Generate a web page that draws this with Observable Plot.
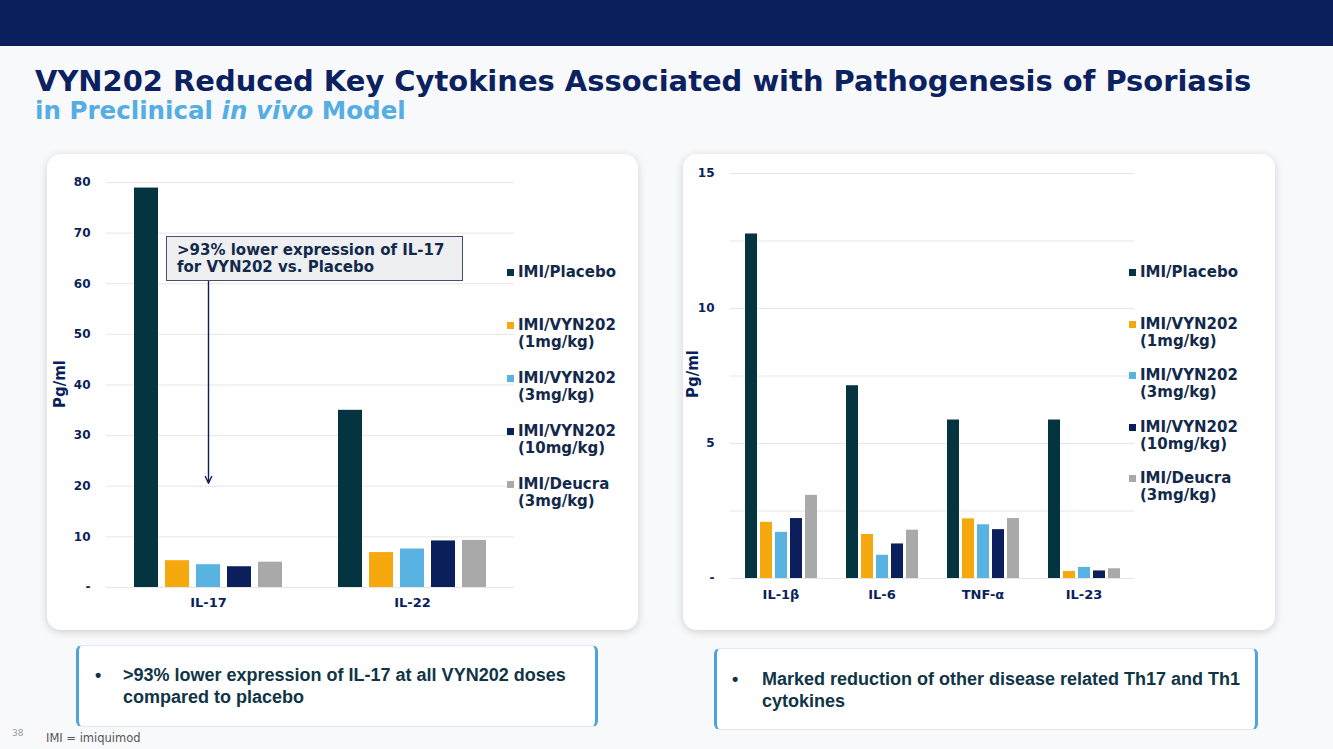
<!DOCTYPE html>
<html><head><meta charset="utf-8">
<script src="https://cdn.jsdelivr.net/npm/d3@7"></script>
<script src="https://cdn.jsdelivr.net/npm/@observablehq/plot@0.6"></script>
<style>
body{margin:0;width:1333px;height:749px;overflow:hidden;background:#f8f9fb;font-family:"DejaVu Sans",sans-serif;position:relative}
.topbar{position:absolute;left:0;top:0;width:1333px;height:46px;background:#0a1f5b}
.title{position:absolute;left:35px;top:67px;font-weight:bold;font-size:29.5px;line-height:29.5px;color:#0b2160;white-space:nowrap}
.subtitle{position:absolute;left:35px;top:99px;font-weight:bold;font-size:23px;line-height:23px;color:#55ade2;white-space:nowrap}
.card{position:absolute;background:#fff;border-radius:14px;box-shadow:0 2px 9px rgba(0,0,0,.17)}
.legend-item{position:absolute;font-weight:bold;font-size:15px;line-height:17px;color:#13294b;white-space:nowrap;padding-left:11px}
.legend-item .sw{position:absolute;left:0;top:5px;width:7px;height:7px}
.ylab{position:absolute;font-weight:bold;font-size:15px;color:#0b1f5c;white-space:nowrap;transform:translate(-50%,-50%) rotate(-90deg)}
.note{position:absolute;left:119px;top:82px;width:297px;height:45px;background:#eeeff1;border:1.5px solid #44506e;font-weight:bold;font-size:15px;line-height:17px;color:#13294b;padding:5px 0 0 10px;box-sizing:border-box}
.box{position:absolute;background:#fff;border-left:3px solid #4ea3dd;border-right:3px solid #4ea3dd;border-top:1px solid #e3e8ee;border-bottom:1px solid #dfe6ee;border-radius:6px;box-sizing:border-box;font-family:"Liberation Sans",Arial,sans-serif;font-weight:bold;font-size:18px;line-height:22px;color:#0f3547}
.box .b{position:absolute}
.box .t{position:absolute;white-space:nowrap}
.foot{position:absolute;left:46px;top:731px;font-size:11.5px;color:#555}
.pg{position:absolute;left:12px;top:728px;font-size:9px;color:#999}
</style></head>
<body>
<div class="topbar"></div>
<div class="title" id="title">VYN202 Reduced Key Cytokines Associated with Pathogenesis of Psoriasis</div>
<div class="subtitle" id="subtitle">in Preclinical <i>in vivo</i> Model</div>
<div class="card" id="cardL" style="left:47px;top:154px;width:591px;height:476px"></div>
<div class="card" id="cardR" style="left:683px;top:154px;width:592px;height:476px"></div>
<div class="box" style="left:76px;top:645px;width:522px;height:82px">
  <div class="b" style="left:16px;top:18px">•</div>
  <div class="t" style="left:44px;top:18px">&gt;93% lower expression of IL-17 at all VYN202 doses<br>compared to placebo</div>
</div>
<div class="box" style="left:714px;top:648px;width:544px;height:82px">
  <div class="b" style="left:15px;top:19px">•</div>
  <div class="t" style="left:45px;top:19px">Marked reduction of other disease related Th17 and Th1<br>cytokines</div>
</div>
<div class="pg">38</div>
<div class="foot">IMI = imiquimod</div>
<script>
// ---- data ----
const seriesNames = ["IMI/Placebo", "IMI/VYN202 (1mg/kg)", "IMI/VYN202 (3mg/kg)", "IMI/VYN202 (10mg/kg)", "IMI/Deucra (3mg/kg)"];
const legendLines = [["IMI/Placebo"], ["IMI/VYN202", "(1mg/kg)"], ["IMI/VYN202", "(3mg/kg)"], ["IMI/VYN202", "(10mg/kg)"], ["IMI/Deucra", "(3mg/kg)"]];
const seriesColors = ["#03343f", "#f6a90f", "#58b2e2", "#0b1f5c", "#a9a9a9"];
const yLabel = "Pg/ml";

const leftCategories = ["IL-17", "IL-22"];
const il17Values = [78.9, 5.3, 4.5, 4.1, 5.0];
const il22Values = [35.0, 6.9, 7.6, 9.2, 9.3];
const leftTicks = [0, 10, 20, 30, 40, 50, 60, 70, 80];

const rightCategories = ["IL-1β", "IL-6", "TNF-α", "IL-23"];
const il1bValues = [12.76, 2.08, 1.71, 2.22, 3.08];
const il6Values = [7.14, 1.63, 0.86, 1.28, 1.79];
const tnfaValues = [5.87, 2.21, 1.99, 1.81, 2.22];
const il23Values = [5.87, 0.26, 0.41, 0.28, 0.36];
const rightTicks = [0, 5, 10, 15];
const rightGrid = [0, 2.5, 5, 7.5, 10, 12.5, 15];

const annotationText = [">93% lower expression of IL-17", "for VYN202 vs. Placebo"];
const annotationArrow = [{cat: "IL-17", series: "IMI/VYN202 (3mg/kg)", from: 60.5, to: 20.6}];

// ---- build ----
function rows(cats, arrays) {
  const out = [];
  cats.forEach((c, i) => arrays[i].forEach((v, j) => out.push({cat: c, series: seriesNames[j], value: v})));
  return out;
}
const leftData = rows(leftCategories, [il17Values, il22Values]);
const rightData = rows(rightCategories, [il1bValues, il6Values, tnfaValues, il23Values]);

const ink = "#0b1f5c";
const fmt = d => d === 0 ? "-" : String(d);

function chart(opts) {
  return Plot.plot({
    width: opts.width, height: 476,
    marginLeft: opts.ml, marginRight: 0, marginTop: opts.mt, marginBottom: opts.mb,
    style: {fontFamily: "DejaVu Sans", fontWeight: "bold", fontSize: "12px", color: ink, background: "transparent", overflow: "visible"},
    fx: {domain: opts.cats, padding: 0, label: null},
    x: {domain: seriesNames, axis: null, paddingInner: 0.23, paddingOuter: 0.86},
    y: {domain: opts.ydomain, label: null},
    color: {domain: seriesNames, range: seriesColors},
    marks: [
      Plot.ruleY(opts.grid, {stroke: "#e6e6e6", strokeWidth: 1}),
      Plot.barY(opts.data, {fx: "cat", x: "series", y: "value", fill: "series"}),
      Plot.axisY({ticks: opts.ticks, tickFormat: fmt, tickSize: 0, tickPadding: 16, fontSize: 12, label: null, anchor: "left"}),
      Plot.axisFx({tickSize: 0, tickPadding: opts.fxpad, fontSize: 13, label: null, anchor: "bottom"}),
      ...(opts.extra || [])
    ]
  });
}

const left = chart({
  width: 467, ml: 59, mt: 28, mb: 43, fxpad: 10,
  cats: leftCategories, data: leftData, ydomain: [0, 80], ticks: leftTicks, grid: leftTicks,
  extra: [Plot.arrow(annotationArrow, {fx: "cat", x1: "series", x2: "series", y1: "from", y2: "to", stroke: ink, strokeWidth: 1.4, headLength: 8, headAngle: 50})]
});
const right = chart({
  width: 452, ml: 46, mt: 19, mb: 52, fxpad: 11,
  cats: rightCategories, data: rightData, ydomain: [0, 15], ticks: rightTicks, grid: rightGrid
});

function place(card, svg, legendLeft, legendTop, step, labX, labY) {
  svg.style.position = "absolute"; svg.style.left = "0"; svg.style.top = "0";
  card.appendChild(svg);
  legendLines.forEach((lines, i) => {
    const d = document.createElement("div");
    d.className = "legend-item";
    d.style.left = legendLeft + "px";
    d.style.top = (legendTop + i * step) + "px";
    d.innerHTML = '<span class="sw" style="background:' + seriesColors[i] + '"></span>' + lines.join("<br>");
    card.appendChild(d);
  });
  const lab = document.createElement("div");
  lab.className = "ylab";
  lab.style.left = labX + "px"; lab.style.top = labY + "px";
  lab.textContent = yLabel;
  card.appendChild(lab);
}
const cardL = document.getElementById("cardL");
const cardR = document.getElementById("cardR");
place(cardL, left, 460, 110, 53, 13, 230);
place(cardR, right, 446, 110, 51.5, 10, 220);

const note = document.createElement("div");
note.className = "note";
note.innerHTML = annotationText.join("<br>");
cardL.appendChild(note);

// fit title widths
function fit(id, target) {
  const el = document.getElementById(id);
  const w = el.getBoundingClientRect().width;
  const fs = parseFloat(getComputedStyle(el).fontSize);
  el.style.fontSize = (fs * target / w) + "px";
}
fit("title", 1217);
fit("subtitle", 371);
</script>
</body></html>
